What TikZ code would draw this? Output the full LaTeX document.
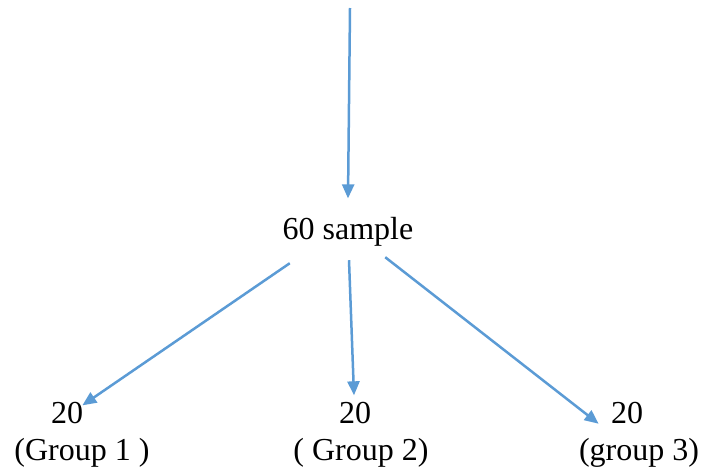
\documentclass[tikz,border=0pt]{standalone}
\usepackage{fontspec}
\setmainfont{Liberation Serif}
\usetikzlibrary{arrows.meta}
\definecolor{linkblue}{RGB}{91,155,213}

\begin{document}
\begin{tikzpicture}[x=0.5pt,y=-0.5pt,
		txt/.style={inner sep=0pt,anchor=base,font=\fontsize{16}{19}\selectfont},
		link/.style={draw=linkblue,line width=1.25pt,-{Triangle[length=7pt,width=6pt]}}]
			\useasboundingbox (0,0) rectangle (705,472);
			\coordinate (top) at (350,8);
			\node[txt] (sample) at (348,239) {60 sample};

			\node[txt] (n1) at (67,423) {20};
			\node[txt] (g1) at (82,460) {(Group 1 )};
			\node[txt] (n2) at (355,423) {20};
			\node[txt] (g2) at (361,460) {( Group 2)};
			\node[txt] (n3) at (627,423) {20};
			\node[txt] (g3) at (639,460) {(group 3)};

			\draw[link] (top) -- ([shift={(0,-18)}]sample.north);
			\draw[link] ([shift={(7.5,17)}]sample.south west) -- ([shift={(-1,4)}]n1.north east);
			\draw[link] ([shift={(1,14)}]sample.south) -- ([shift={(-1,-6)}]n2.north);
			\draw[link] ([shift={(-28.5,11)}]sample.south east) -- ([shift={(-12,0)}]n3.south west);
\end{tikzpicture}
\end{document}
